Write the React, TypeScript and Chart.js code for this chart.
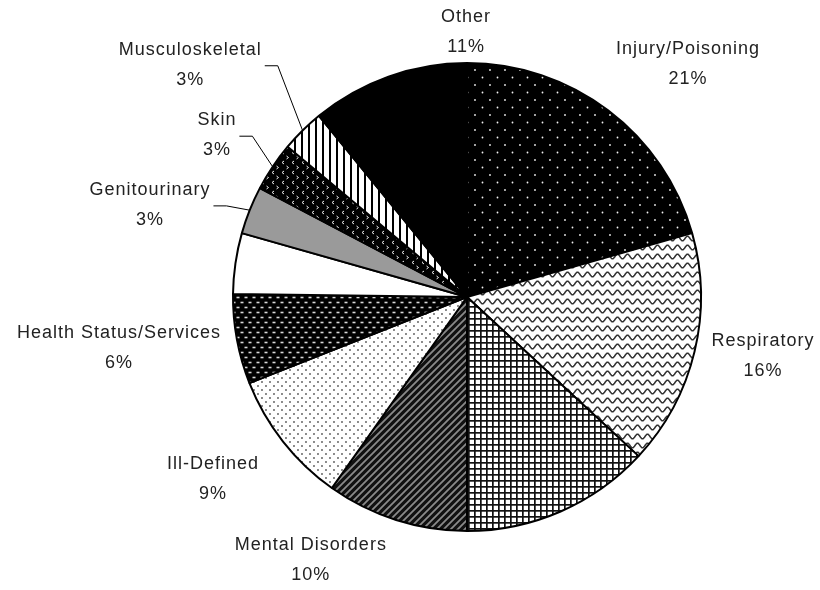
import React, { useEffect, useRef } from "react";
import { Chart, registerables } from "chart.js";

Chart.register(...registerables);

// ---- data ----
const categories = [
  "Injury/Poisoning",
  "Respiratory",
  "",
  "Mental Disorders",
  "Ill-Defined",
  "Health Status/Services",
  "",
  "Genitourinary",
  "Skin",
  "Musculoskeletal",
  "Other",
];
const shares = [20.6, 16.3, 13.1, 9.8, 9.2, 6.2, 4.2, 3.3, 3.4, 3.0, 10.9];

// ---- label placement (angle clockwise from top in degrees, distance in radii) ----
const LABEL_POLAR: [number, number][] = [
  [43.5, 1.372],
  [101.3, 1.29],
  [0, 0],
  [210.7, 1.307],
  [234.4, 1.335],
  [261.7, 1.503],
  [0, 0],
  [286.2, 1.411],
  [302.9, 1.273],
  [310.0, 1.544],
  [359.8, 1.132],
];
const LEADER = [false, false, false, false, false, false, false, true, true, true, false];

function tile(w: number, h: number, draw: (c: CanvasRenderingContext2D) => void) {
  const cv = document.createElement("canvas");
  cv.width = w;
  cv.height = h;
  const c = cv.getContext("2d")!;
  draw(c);
  return c.createPattern(cv, "repeat")!;
}

function makeFills(): (CanvasPattern | string)[] {
  const injury = tile(15, 15, (c) => {
    c.fillStyle = "#000";
    c.fillRect(0, 0, 15, 15);
    c.fillStyle = "#f2f2f2";
    c.beginPath();
    c.arc(2.5, 2.5, 0.9, 0, Math.PI * 2);
    c.arc(10, 10, 0.9, 0, Math.PI * 2);
    c.fill();
  });
  const resp = tile(10, 9, (c) => {
    c.fillStyle = "#fff";
    c.fillRect(0, 0, 10, 9);
    c.strokeStyle = "#333";
    c.lineWidth = 1.5;
    c.beginPath();
    for (let x = -1; x <= 11; x += 0.5) {
      const y = 4.5 + 2.3 * Math.sin((2 * Math.PI * x) / 10);
      if (x === -1) c.moveTo(x, y);
      else c.lineTo(x, y);
    }
    c.stroke();
  });
  const grid = tile(6, 6, (c) => {
    c.fillStyle = "#fff";
    c.fillRect(0, 0, 6, 6);
    c.fillStyle = "#111";
    c.fillRect(0, 0, 6, 1.7);
    c.fillRect(0, 0, 1.7, 6);
  });
  const mental = tile(7, 7, (c) => {
    c.fillStyle = "#111";
    c.fillRect(0, 0, 7, 7);
    c.strokeStyle = "#8a8a8a";
    c.lineWidth = 1.8;
    c.beginPath();
    c.moveTo(-1, 8);
    c.lineTo(8, -1);
    c.moveTo(-4.5, 4.5);
    c.lineTo(4.5, -4.5);
    c.moveTo(2.5, 11.5);
    c.lineTo(11.5, 2.5);
    c.stroke();
  });
  const ill = tile(8, 8, (c) => {
    c.fillStyle = "#fff";
    c.fillRect(0, 0, 8, 8);
    c.fillStyle = "#555";
    c.beginPath();
    c.arc(2, 2, 0.9, 0, Math.PI * 2);
    c.arc(6, 6, 0.9, 0, Math.PI * 2);
    c.fill();
  });
  const health = tile(8, 10, (c) => {
    c.fillStyle = "#000";
    c.fillRect(0, 0, 8, 10);
    c.fillStyle = "#d8d8d8";
    c.fillRect(0.5, 1.7, 3, 1.6);
    c.fillRect(4.5, 6.7, 3, 1.6);
  });
  const skin = tile(10, 10, (c) => {
    c.fillStyle = "#000";
    c.fillRect(0, 0, 10, 10);
    c.strokeStyle = "#eee";
    c.lineWidth = 1;
    c.beginPath();
    c.moveTo(4, 1);
    c.lineTo(2, 2.5);
    c.lineTo(4, 4);
    c.moveTo(6.5, 6);
    c.lineTo(8.5, 7.5);
    c.lineTo(6.5, 9);
    c.stroke();
  });
  const musc = tile(7, 7, (c) => {
    c.fillStyle = "#fff";
    c.fillRect(0, 0, 7, 7);
    c.fillStyle = "#000";
    c.fillRect(0, 0, 2, 7);
  });
  return [injury, resp, grid, mental, ill, health, "#ffffff", "#9a9a9a", skin, musc, "#000000"];
}

const labelPlugin = {
  id: "sliceLabels",
  afterDatasetsDraw(chart: any) {
    const ctx: CanvasRenderingContext2D = chart.ctx;
    const meta = chart.getDatasetMeta(0);
    const total = shares.reduce((a, b) => a + b, 0);
    ctx.save();
    ctx.font = '18px "Liberation Sans", Arial, sans-serif';
    ctx.fillStyle = "#222";
    ctx.textAlign = "center";
    ctx.textBaseline = "middle";
    (ctx as any).letterSpacing = "1px";
    meta.data.forEach((arc: any, i: number) => {
      const name = categories[i];
      if (!name) return;
      const { x, y, outerRadius, startAngle, endAngle } = arc.getProps(
        ["x", "y", "outerRadius", "startAngle", "endAngle"],
        true
      );
      const [angDeg, distF] = LABEL_POLAR[i];
      const a = ((angDeg - 90) * Math.PI) / 180;
      const lx = x + Math.cos(a) * distF * outerRadius;
      const ly = y + Math.sin(a) * distF * outerRadius;
      const pct = Math.round((shares[i] / total) * 100) + "%";
      ctx.fillText(name, lx, ly - 15);
      ctx.fillText(pct, lx, ly + 15);
      if (LEADER[i]) {
        const w = Math.max(ctx.measureText(name).width, ctx.measureText(pct).width);
        const mid = (startAngle + endAngle) / 2;
        const px = x + Math.cos(mid) * outerRadius;
        const py = y + Math.sin(mid) * outerRadius;
        const sx = lx + w / 2 + 3;
        ctx.save();
        ctx.strokeStyle = "#000";
        ctx.lineWidth = 1;
        ctx.beginPath();
        ctx.moveTo(sx, ly + 1);
        ctx.lineTo(sx + 13, ly + 1);
        ctx.lineTo(px, py);
        ctx.stroke();
        ctx.restore();
      }
    });
    ctx.restore();
  },
};

export default function App() {
  const ref = useRef<HTMLCanvasElement>(null);
  useEffect(() => {
    const canvas = ref.current!;
    const fills = makeFills();
    const chart = new Chart(canvas, {
      type: "pie",
      data: {
        labels: categories,
        datasets: [
          {
            data: shares,
            backgroundColor: fills as any,
            borderColor: "#000",
            borderWidth: 2,
            radius: 234,
          } as any,
        ],
      },
      options: {
        responsive: false,
        animation: false,
        events: [],
        layout: { padding: { left: 114, top: 4, right: 0, bottom: 0 } },
        plugins: { legend: { display: false }, tooltip: { enabled: false } },
      } as any,
      plugins: [labelPlugin],
    });
    return () => chart.destroy();
  }, []);
  return (
    <div style={{ position: "fixed", left: 0, top: 0, width: 820, height: 590, background: "#fff" }}>
      <canvas ref={ref} width={820} height={590} style={{ width: 820, height: 590, display: "block" }} />
    </div>
  );
}
